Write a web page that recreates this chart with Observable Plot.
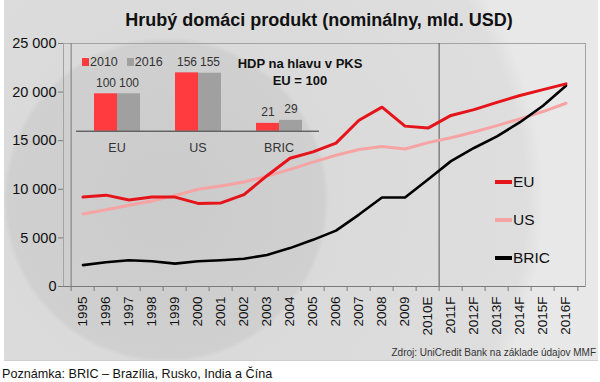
<!DOCTYPE html>
<html>
<head>
<meta charset="utf-8">
<script src="https://cdn.jsdelivr.net/npm/d3@7"></script>
<script src="https://cdn.jsdelivr.net/npm/@observablehq/plot@0.6"></script>
<style>
  body { margin: 0; background: #fff; font-family: Arial, "Liberation Sans", sans-serif; }
  #wrap { position: relative; width: 600px; height: 382px; overflow: hidden; }
  #panel {
    position: absolute; left: 4px; top: 0; width: 594px; height: 360px;
    background: radial-gradient(circle at 162px 200px, #cbcbcb 0px, #d0d0d0 158px, #dadada 163px, #dedede 360px, #e8e8e8 378px, #e9e9e9 600px);
    border-bottom: 1px solid #cfcfcf;
  }
  #title { height: 36px; box-sizing: border-box; padding-top: 10px; padding-left: 36px; text-align: center;
    font-weight: bold; font-size: 18px; line-height: 20px; color: #111; }
  #source { height: 14px; font-size: 10px; line-height: 14px; text-align: right; padding-right: 2px; color: #333; margin-top: 1px; }
  #note { position: absolute; left: 2px; top: 366px; font-size: 12.6px; line-height: 16px; color: #111; }
  .abs { position: absolute; }
  #legend .item { position: absolute; left: 495px; display: flex; align-items: center; font-size: 15.5px; color: #111; height: 20px; }
  #legend .sw { width: 17px; height: 4px; margin-right: 1px; }
  #ilegend { position: absolute; left: 82px; top: 54px; font-size: 12.5px; color: #333; display: flex; align-items: center; height: 16px; }
  #ilegend .sq { width: 7px; height: 8px; margin-right: 1px; }
  #ititle { position: absolute; left: 220px; width: 160px; top: 56px; text-align: center; font-weight: bold; font-size: 13px; line-height: 16.5px; color: #111; }
</style>
</head>
<body>
<div id="wrap">
  <div id="panel">
    <div id="title">Hrubý domáci produkt (nominálny, mld. USD)</div>
    <div id="main"></div>
    <div id="source">Zdroj: UniCredit Bank na základe údajov MMF</div>
  </div>
  <div id="inset" class="abs" style="left:70px; top:40px;"></div>
  <div id="ilegend"></div>
  <div id="ititle">HDP na hlavu v PKS<br>EU = 100</div>
  <div id="legend"></div>
  <div id="note">Poznámka: BRIC – Brazília, Rusko, India a Čína</div>
</div>
<script>
// ---- Data ----
const years = ["1995","1996","1997","1998","1999","2000","2001","2002","2003","2004","2005","2006","2007","2008","2009","2010E","2011F","2012F","2013F","2014F","2015F","2016F"];
const eu   = [9200, 9400, 8900, 9200, 9200, 8550, 8600, 9450, 11400, 13200, 13850, 14750, 17100, 18450, 16500, 16300, 17600, 18200, 18950, 19650, 20250, 20850];
const us   = [7450, 7900, 8350, 8800, 9350, 10000, 10350, 10750, 11350, 12050, 12800, 13500, 14100, 14400, 14150, 14800, 15300, 15900, 16550, 17250, 18000, 18850];
const bric = [2200, 2500, 2700, 2600, 2350, 2600, 2700, 2850, 3250, 3950, 4800, 5750, 7400, 9150, 9150, 11000, 12900, 14250, 15450, 16900, 18600, 20650];
const seriesNames = ["EU", "US", "BRIC"];
const yTicks = [0, 5000, 10000, 15000, 20000, 25000];
const forecastStart = "2011F";

const regions = ["EU", "US", "BRIC"];
const insetYears = ["2010", "2016"];
const v2010 = [100, 156, 21];
const v2016 = [100, 155, 29];

// ---- Styles ----
const lineColors = ["#e5141b", "#f6a3a3", "#000000"];
const lineWidths = {EU: 3, US: 3, BRIC: 2.6};
const barColors = ["#ff3b40", "#a0a0a0"];
const font = 'Arial, "Liberation Sans", sans-serif';

// ---- Main chart ----
const W = 594, H = 309, mL = 59, mR = 13, mT = 7, mB = 59;
const step = (W - mL - mR) / years.length;
const rows = [];
[eu, us, bric].forEach((arr, s) => arr.forEach((v, i) => rows.push({year: years[i], series: seriesNames[s], value: v})));
const fmt = d => d3.format(",")(d).replace(/,/g, " ");

const main = Plot.plot({
  width: W, height: H, marginLeft: mL, marginRight: mR, marginTop: mT, marginBottom: mB,
  style: {background: "transparent", fontFamily: font, fontSize: "13.5px", color: "#111", overflow: "visible"},
  x: {type: "band", domain: years, padding: 0},
  y: {domain: [0, 25000]},
  color: {domain: seriesNames, range: lineColors},
  marks: [
    Plot.frame({stroke: "#a3a3a3"}),
    Plot.axisY({ticks: yTicks, tickSize: 5, tickPadding: 2, tickFormat: fmt, fontSize: 14.5, stroke: "#7a7a7a", label: null}),
    Plot.axisX({tickSize: 5, tickFormat: null, dx: -step / 2, stroke: "#7a7a7a", label: null}),
    Plot.axisX({ticks: [years[years.length - 1]], tickSize: 5, tickFormat: null, dx: step / 2, stroke: "#7a7a7a", label: null}),
    Plot.axisX({tickSize: 0, tickPadding: 10, tickRotate: -90, fontSize: 13.5, label: null}),
    Plot.ruleX([years[0]], {dx: -step / 2, stroke: "#7a7a7a"}),
    Plot.ruleY([0], {stroke: "#7a7a7a"}),
    Plot.ruleX([forecastStart], {dx: -step / 2, stroke: "#555"}),
    ...["US", "BRIC", "EU"].map(s => Plot.line(rows.filter(r => r.series === s), {
      x: "year", y: "value", stroke: "series", strokeWidth: lineWidths[s], strokeLinejoin: "round"
    }))
  ]
});
document.getElementById("main").appendChild(main);

// legend (right)
const legendTops = {EU: 172, US: 210, BRIC: 248};
const lg = document.getElementById("legend");
seriesNames.forEach((s, i) => {
  const it = document.createElement("div");
  it.className = "item";
  it.style.top = legendTops[s] + "px";
  it.innerHTML = `<span class="sw" style="background:${lineColors[i]}"></span><span>${s}</span>`;
  lg.appendChild(it);
});

// ---- Inset bar chart ----
const barRows = [];
regions.forEach((r, i) => {
  barRows.push({region: r, year: insetYears[0], value: v2010[i]});
  barRows.push({region: r, year: insetYears[1], value: v2016[i]});
});
const inset = Plot.plot({
  width: 290, height: 121, marginLeft: 5, marginRight: 40, marginTop: 15.9, marginBottom: 30.3,
  style: {background: "transparent", fontFamily: font, fontSize: "12.5px", color: "#333", overflow: "visible"},
  fx: {domain: regions, padding: 0, axis: "bottom", label: null, tickSize: 0, tickPadding: 12},
  x: {domain: insetYears, paddingInner: 0, paddingOuter: 0.7, axis: null},
  y: {domain: [0, 200], axis: null},
  color: {domain: insetYears, range: barColors},
  marks: [
    Plot.barY(barRows, {fx: "region", x: "year", y: "value", fill: "year"}),
    Plot.text(barRows, {fx: "region", x: "year", y: "value", text: d => String(d.value), dy: -11, fill: "#333", fontSize: 12}),
    Plot.ruleY([0], {stroke: "#333"})
  ]
});
document.getElementById("inset").appendChild(inset);

const il = document.getElementById("ilegend");
il.innerHTML = insetYears.map((y, i) =>
  `<span class="sq" style="background:${barColors[i]}"></span><span style="margin-right:${i === 0 ? 9 : 0}px">${y}</span>`
).join("");
</script>
</body>
</html>
